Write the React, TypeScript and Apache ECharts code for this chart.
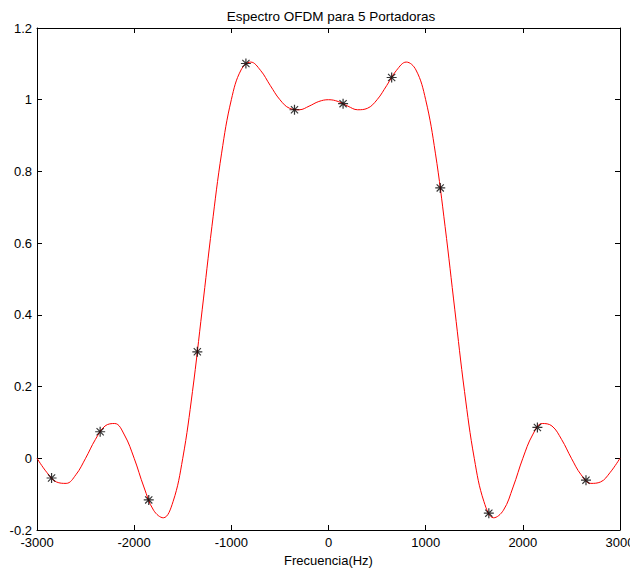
import React, { useEffect, useRef } from "react";
import * as echarts from "echarts";

// Frequency grid of the traced spectrum (Hz)
const FREQ_HZ = [
  -3000, -2900, -2800, -2700, -2600, -2500, -2400, -2300, -2200, -2100,
  -2000, -1900, -1800, -1700, -1600, -1500, -1400, -1300, -1200, -1100,
  -1000, -900, -800, -700, -600, -500, -400, -300, -200, -100,
  0, 100, 200, 300, 400, 500, 600, 700, 800, 900,
  1000, 1100, 1200, 1300, 1400, 1500, 1600, 1700, 1800, 1900,
  2000, 2100, 2200, 2300, 2400, 2500, 2600, 2700, 2800, 2900, 3000,
];

// Spectrum amplitude at each frequency of FREQ_HZ
const SPECTRUM = [
  0, -0.039, -0.066, -0.07, -0.046, 0, 0.052, 0.09, 0.097, 0.065,
  0, -0.08, -0.145, -0.166, -0.121, 0, 0.186, 0.414, 0.646, 0.851,
  1.0, 1.083, 1.105, 1.082, 1.04, 1.0, 0.976, 0.972, 0.982, 0.995,
  1.0, 0.995, 0.982, 0.972, 0.976, 1.0, 1.04, 1.082, 1.105, 1.083,
  1.0, 0.851, 0.646, 0.414, 0.186, 0, -0.121, -0.166, -0.145, -0.08,
  0, 0.065, 0.097, 0.09, 0.052, 0, -0.046, -0.07, -0.066, -0.039, 0,
];

// Sampled points (asterisks)
const SAMPLE_HZ = [-2850, -2350, -1850, -1350, -850, -350, 150, 650, 1150, 1650, 2150, 2650];
const SAMPLE_VAL = [-0.055, 0.074, -0.116, 0.297, 1.101, 0.972, 0.989, 1.062, 0.754, -0.153, 0.086, -0.061];

const X_MIN = -3000;
const X_MAX = 3000;
const X_STEP = 1000;
const Y_MIN = -0.2;
const Y_MAX = 1.2;
const Y_STEP = 0.2;

const TITLE = "Espectro OFDM para 5 Portadoras";
const X_NAME = "Frecuencia(Hz)";

const FONT = "'Liberation Sans', Arial, Helvetica, sans-serif";

// Asterisk marker built from four bars
const ASTERISK =
  "path://M0 4.4L10 4.4L10 5.6L0 5.6Z" +
  "M4.4 0L5.6 0L5.6 10L4.4 10Z" +
  "M1 1.8L1.8 1L9 8.2L8.2 9Z" +
  "M8.2 1L9 1.8L1.8 9L1 8.2Z";

export default function App() {
  const ref = useRef<HTMLDivElement>(null);

  useEffect(() => {
    if (!ref.current) return;
    const chart = echarts.init(ref.current, undefined, { renderer: "svg" });

    const axisLine = { show: true, onZero: false, lineStyle: { color: "#000", width: 1 } };
    const axisTick = { show: true, inside: true, length: 5, lineStyle: { color: "#000", width: 1 } };
    const label = { color: "#000", fontSize: 13, fontFamily: FONT };

    chart.setOption({
      animation: false,
      backgroundColor: "#fff",
      title: {
        text: TITLE,
        left: 326,
        top: 4,
        textAlign: "center",
        textStyle: { color: "#000", fontSize: 13.5, fontWeight: "normal", fontFamily: FONT },
      },
      grid: { left: 37, right: 10, top: 28, bottom: 39, containLabel: false, outerBoundsMode: "none" },
      xAxis: [
        {
          type: "value",
          position: "bottom",
          min: X_MIN,
          max: X_MAX,
          interval: X_STEP,
          axisLine,
          axisTick,
          axisLabel: { ...label, margin: 6, formatter: (v: number) => String(v) },
          splitLine: { show: false },
          name: X_NAME,
          nameLocation: "middle",
          nameGap: 21,
          nameTextStyle: { ...label },
        },
        {
          type: "value",
          position: "top",
          min: X_MIN,
          max: X_MAX,
          interval: X_STEP,
          axisLine,
          axisTick,
          axisLabel: { show: false },
          splitLine: { show: false },
        },
      ],
      yAxis: [
        {
          type: "value",
          position: "left",
          min: Y_MIN,
          max: Y_MAX,
          interval: Y_STEP,
          axisLine,
          axisTick,
          axisLabel: {
            ...label,
            margin: 5,
            formatter: (v: number) => String(Math.round(v * 10) / 10),
          },
          splitLine: { show: false },
        },
        {
          type: "value",
          position: "right",
          min: Y_MIN,
          max: Y_MAX,
          interval: Y_STEP,
          axisLine,
          axisTick,
          axisLabel: { show: false },
          splitLine: { show: false },
        },
      ],
      series: [
        {
          type: "line",
          xAxisIndex: 0,
          yAxisIndex: 0,
          data: FREQ_HZ.map((f, i) => [f, SPECTRUM[i]]),
          showSymbol: false,
          smooth: 0.4,
          lineStyle: { color: "#ff0000", width: 1 },
          silent: true,
          z: 2,
        },
        {
          type: "scatter",
          xAxisIndex: 0,
          yAxisIndex: 0,
          data: SAMPLE_HZ.map((f, i) => [f, SAMPLE_VAL[i]]),
          symbol: ASTERISK,
          symbolSize: 10,
          itemStyle: { color: "#000" },
          silent: true,
          z: 3,
        },
      ],
    });

    return () => chart.dispose();
  }, []);

  return (
    <div
      ref={ref}
      style={{ position: "absolute", left: 0, top: 0, width: 630, height: 569 }}
    />
  );
}
